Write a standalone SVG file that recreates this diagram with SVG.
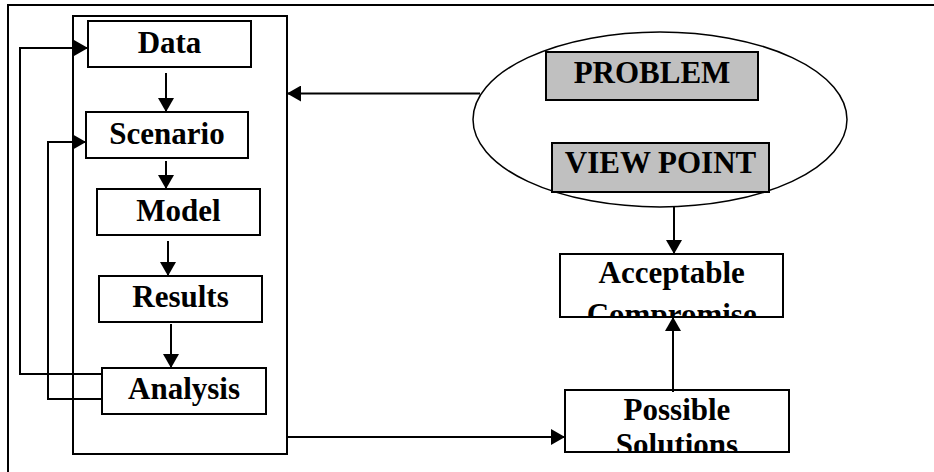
<svg xmlns="http://www.w3.org/2000/svg" width="934" height="472" viewBox="0 0 934 472">
<style>
.box{fill:#fff;stroke:#000;stroke-width:2}
.grey{fill:#c0c0c0;stroke:#000;stroke-width:2}
.t{font-family:"Liberation Serif","Times New Roman",serif;font-weight:bold;font-size:31px;text-anchor:middle;fill:#000}
.c{fill:none;stroke:#000;stroke-width:2}
</style>
<defs>
<marker id="ah" viewBox="0 0 14 16" refX="14" refY="8" markerWidth="14" markerHeight="16" markerUnits="userSpaceOnUse" orient="auto">
<path d="M0,0 L14,8 L0,16 Z" fill="#000"/>
</marker>
<clipPath id="clipAC"><rect x="560" y="254" width="224" height="63"/></clipPath>
<clipPath id="clipPS"><rect x="565" y="390" width="225" height="62"/></clipPath>
</defs>
<rect width="934" height="472" fill="#fff"/>
<path d="M8,472 L8,5 L934,5" fill="none" stroke="#000" stroke-width="2"/>
<g id="panel"><rect x="73" y="16" width="214" height="438" fill="none" stroke="#000" stroke-width="2"/></g>
<g id="data"><rect class="box" x="88" y="21" width="163" height="46"/><text class="t" x="169.5" y="53">Data</text></g>
<g id="scenario"><rect class="box" x="86" y="112" width="162" height="46"/><text class="t" x="167" y="144">Scenario</text></g>
<g id="model"><rect class="box" x="97" y="189" width="163" height="46"/><text class="t" x="178.5" y="221">Model</text></g>
<g id="results"><rect class="box" x="99" y="276" width="163" height="46"/><text class="t" x="180.5" y="307">Results</text></g>
<g id="analysis"><rect class="box" x="102" y="368" width="164" height="46"/><text class="t" x="184" y="399">Analysis</text></g>
<g id="ellipse"><ellipse cx="660" cy="119.5" rx="187" ry="87.5" fill="#fff" stroke="#000" stroke-width="1.5"/></g>
<g id="problem"><rect class="grey" x="546" y="52" width="212" height="48"/><text class="t" x="652" y="83">PROBLEM</text></g>
<g id="viewpoint"><rect class="grey" x="552" y="143" width="217" height="49"/><text class="t" x="660.5" y="173">VIEW POINT</text></g>
<g id="acceptable"><rect class="box" x="560" y="254" width="223" height="63"/><g clip-path="url(#clipAC)"><text class="t" x="671.7" y="283">Acceptable</text><text class="t" x="671.7" y="325">Compromise</text></g><line x1="560" y1="317" x2="783" y2="317" stroke="#000" stroke-width="2"/></g>
<g id="possible"><rect class="box" x="565" y="390" width="224" height="62"/><g clip-path="url(#clipPS)"><text class="t" x="677" y="420">Possible</text><text class="t" x="677" y="455">Solutions</text></g><line x1="565" y1="452" x2="789" y2="452" stroke="#000" stroke-width="2"/></g>
<g id="connectors">
<line class="c" x1="166" y1="73" x2="166" y2="112" marker-end="url(#ah)"/>
<line class="c" x1="166" y1="161" x2="166" y2="189" marker-end="url(#ah)"/>
<line class="c" x1="168" y1="241" x2="168" y2="276" marker-end="url(#ah)"/>
<line class="c" x1="171" y1="324" x2="171" y2="368" marker-end="url(#ah)"/>
<polyline class="c" points="102,374 20,374 20,48 88,48" marker-end="url(#ah)"/>
<polyline class="c" points="102,399 48,399 48,142 86,142" marker-end="url(#ah)"/>
<line class="c" x1="480" y1="93.5" x2="287" y2="93.5" marker-end="url(#ah)"/>
<line class="c" x1="674" y1="207" x2="674" y2="254" marker-end="url(#ah)"/>
<line class="c" x1="673" y1="392" x2="673" y2="317" marker-end="url(#ah)"/>
<line class="c" x1="287" y1="437" x2="565" y2="437" marker-end="url(#ah)"/>
</g>
</svg>
